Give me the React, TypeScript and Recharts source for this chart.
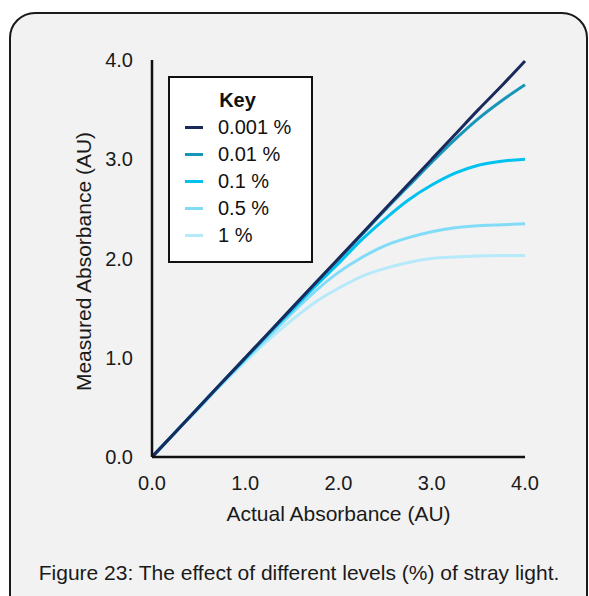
import { Label, Legend, Line, LineChart, XAxis, YAxis } from "recharts";

const FONT = '"Liberation Sans", Arial, sans-serif';

const actual = [0, 0.25, 0.5, 0.75, 1, 1.25, 1.5, 1.75, 2, 2.25, 2.5, 2.75, 3, 3.25, 3.5, 3.75, 4];
const stray0001 = [0, 0.25, 0.5, 0.75, 1, 1.25, 1.5, 1.75, 2, 2.25, 2.5, 2.75, 3, 3.25, 3.5, 3.74, 3.99];
const stray001 = [0, 0.25, 0.5, 0.75, 1, 1.25, 1.5, 1.75, 1.99, 2.24, 2.49, 2.73, 2.97, 3.2, 3.41, 3.59, 3.75];
const stray01 = [0, 0.25, 0.5, 0.75, 0.99, 1.24, 1.48, 1.72, 1.95, 2.19, 2.4, 2.59, 2.74, 2.86, 2.94, 2.98, 3.0];
const stray05 = [0, 0.25, 0.49, 0.74, 0.98, 1.21, 1.45, 1.67, 1.86, 2.01, 2.13, 2.21, 2.27, 2.31, 2.33, 2.34, 2.35];
const stray1 = [0, 0.25, 0.49, 0.73, 0.96, 1.18, 1.38, 1.56, 1.7, 1.82, 1.9, 1.96, 2.0, 2.015, 2.025, 2.03, 2.03];
const ticks = [0, 1, 2, 3, 4];

const series = [
  { key: "s0001", label: "0.001 %", color: "#1b2a5c", values: stray0001 },
  { key: "s001", label: "0.01 %", color: "#1896b9", values: stray001 },
  { key: "s01", label: "0.1 %", color: "#00c2f0", values: stray01 },
  { key: "s05", label: "0.5 %", color: "#82dcf7", values: stray05 },
  { key: "s1", label: "1 %", color: "#b6eafa", values: stray1 },
];

const data = actual.map((x, i) => {
  const row: Record<string, number> = { x };
  series.forEach((s) => (row[s.key] = s.values[i]));
  return row;
});

function KeyBox() {
  return (
    <div
      style={{
        boxSizing: "border-box",
        width: 145,
        height: 187,
        border: "2px solid #111",
        background: "#fff",
        paddingTop: 9,
        fontFamily: FONT,
        fontSize: 20,
        color: "#111",
      }}
    >
      <div style={{ height: 27, lineHeight: "27px", fontWeight: 700, textAlign: "center", paddingRight: 6 }}>
        Key
      </div>
      {series.map((s) => (
        <div key={s.key} style={{ height: 27, lineHeight: "27px", display: "flex", alignItems: "center" }}>
          <span style={{ display: "inline-block", width: 18, height: 3, marginLeft: 15, marginRight: 15, background: s.color }} />
          <span>{s.label}</span>
        </div>
      ))}
    </div>
  );
}

export default function App() {
  const tickStyle = { fontSize: 20, fill: "#1a1a1a", fontFamily: FONT };
  return (
    <div style={{ position: "absolute", left: 0, top: 0, width: 589, height: 596, overflow: "hidden", background: "#fff" }}>
      <div
        style={{
          position: "absolute",
          left: 9,
          top: 12,
          width: 579,
          height: 610,
          boxSizing: "border-box",
          border: "2px solid #1a1a1a",
          borderRadius: 26,
          background: "#f2f2f2",
        }}
      />
      <div style={{ position: "absolute", left: 0, top: 0 }}>
        <LineChart width={589} height={596} data={data} margin={{ top: 60, right: 64, left: 0, bottom: 99 }}>
          <XAxis
            dataKey="x"
            type="number"
            domain={[0, 4]}
            ticks={ticks}
            tickFormatter={(v: number) => v.toFixed(1)}
            tickLine={false}
            tickSize={6}
            tickMargin={13}
            axisLine={{ stroke: "#111", strokeWidth: 2.5 }}
            tick={tickStyle}
            height={40}
          >
            <Label
              content={({ viewBox }: any) => (
                <text
                  x={viewBox.x + viewBox.width / 2}
                  y={viewBox.y + viewBox.height + 24}
                  textAnchor="middle"
                  fontSize={21}
                  fontFamily={FONT}
                  fill="#1a1a1a"
                >
                  Actual Absorbance (AU)
                </text>
              )}
            />
          </XAxis>
          <YAxis
            type="number"
            domain={[0, 4]}
            ticks={ticks}
            tickFormatter={(v: number) => v.toFixed(1)}
            tickLine={false}
            tickSize={6}
            tickMargin={13}
            axisLine={{ stroke: "#111", strokeWidth: 2.5 }}
            tick={tickStyle}
            width={152}
          >
            <Label
              content={({ viewBox }: any) => {
                const cx = 91;
                const cy = viewBox.y + viewBox.height / 2 + 3;
                return (
                  <text
                    x={cx}
                    y={cy}
                    transform={`rotate(-90 ${cx} ${cy})`}
                    textAnchor="middle"
                    fontSize={21}
                    fontFamily={FONT}
                    fill="#1a1a1a"
                  >
                    Measured Absorbance (AU)
                  </text>
                );
              }}
            />
          </YAxis>
          <Legend
            layout="vertical"
            align="center"
            verticalAlign="middle"
            content={() => <KeyBox />}
            wrapperStyle={{ position: "absolute", left: 168, top: 76, width: 145, height: 187 }}
          />
          {[...series].reverse().map((s) => (
            <Line
              key={s.key}
              dataKey={s.key}
              name={s.label}
              type="monotone"
              stroke={s.color}
              strokeWidth={3}
              dot={false}
              activeDot={false}
              isAnimationActive={false}
            />
          ))}
        </LineChart>
      </div>
      <div
        style={{
          position: "absolute",
          left: 0,
          top: 561,
          width: 598,
          textAlign: "center",
          fontFamily: FONT,
          fontSize: 21,
          lineHeight: "24px",
          color: "#1a1a1a",
        }}
      >
        Figure 23: The effect of different levels (%) of stray light.
      </div>
    </div>
  );
}
